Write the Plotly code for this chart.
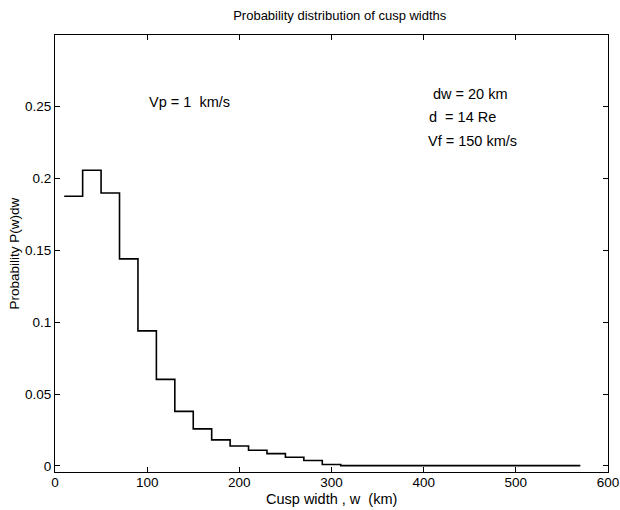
import plotly.graph_objects as go

# bin edges (km) and probability per bin
w_edges = [10, 30, 50, 70, 90, 110, 130, 150, 170, 190, 210, 230, 250, 270, 290, 310, 570]
prob = [0.1874, 0.2055, 0.1897, 0.1439, 0.0939, 0.0602, 0.0379, 0.0258, 0.0181,
        0.0139, 0.0109, 0.0086, 0.0061, 0.0038, 0.0010, 0.0002]

x_ticks = [0, 100, 200, 300, 400, 500, 600]
y_ticks = [0, 0.05, 0.1, 0.15, 0.2, 0.25]
y_tick_labels = ["0", "0.05", "0.1", "0.15", "0.2", "0.25"]

notes = [
    ("Vp = 1  km/s", 100, 0.253),
    ("dw = 20 km", 408, 0.2585),
    ("d  = 14 Re", 404, 0.2427),
    ("Vf = 150 km/s", 403, 0.226),
]

FONT = "Liberation Sans, Arial, Helvetica, sans-serif"

fig = go.Figure()
fig.add_trace(go.Scatter(
    x=w_edges, y=prob + [prob[-1]], mode="lines", line_shape="hv",
    line=dict(color="black", width=1.6), showlegend=False, hoverinfo="skip"))

for text, x, y in notes:
    fig.add_annotation(x=x, y=y, text=text, showarrow=False, xanchor="left",
                       yanchor="middle", font=dict(size=14.5, color="black", family=FONT))

# axis titles as annotations (tight placement like the reference)
fig.add_annotation(x=0.5, y=0, xref="paper", yref="paper", yshift=-27,
                   text="Cusp width , w  (km)", showarrow=False,
                   xanchor="center", yanchor="middle",
                   font=dict(size=14.5, color="black", family=FONT))
fig.add_annotation(x=0, y=0.5, xref="paper", yref="paper", xshift=-41,
                   text="Probability P(w)dw", showarrow=False, textangle=-90,
                   xanchor="center", yanchor="middle",
                   font=dict(size=13.5, color="black", family=FONT))

axis_common = dict(showgrid=False, zeroline=False, showline=True, linecolor="black",
                   linewidth=1.2, mirror="ticks", ticks="inside", ticklen=5,
                   tickcolor="black", automargin=False,
                   tickfont=dict(size=13.5, color="black", family=FONT))

fig.update_xaxes(range=[0, 600], tickvals=x_ticks, ticktext=[str(v) for v in x_ticks],
                 ticklabelstandoff=-2, **axis_common)
fig.update_yaxes(range=[-0.0042, 0.2995], tickvals=y_ticks, ticktext=y_tick_labels,
                 ticklabelstandoff=0, **axis_common)

fig.update_layout(
    width=620, height=510,
    margin=dict(l=55, r=12, t=35, b=38),
    paper_bgcolor="white", plot_bgcolor="white",
    title=dict(text="Probability distribution of cusp widths", x=0.548, xanchor="center",
               y=1 - 15 / 510, yanchor="middle",
               font=dict(size=13, color="black", family=FONT)),
)

fig.write_html(
    "out.html",
    config={"displayModeBar": False},
    post_script="document.body.style.margin='0';document.body.style.overflow='hidden';",
)
